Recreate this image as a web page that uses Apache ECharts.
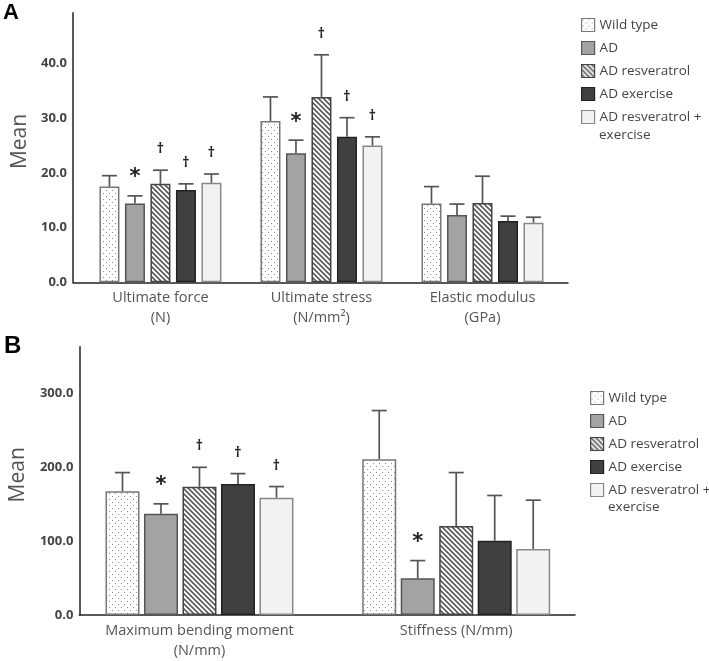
<!DOCTYPE html>
<html><head><meta charset="utf-8">
<script src="https://cdn.jsdelivr.net/npm/echarts@6/dist/echarts.min.js"></script>
<style>html,body{margin:0;padding:0;background:#fff}#c{width:709px;height:661px}</style>
</head><body><div id="c"></div>
<script>
// ---------- data ----------
const groupNames = ['Wild type', 'AD', 'AD resveratrol', 'AD exercise', 'AD resveratrol + exercise'];

// Panel A
const catsA = ['Ultimate force\n(N)', 'Ultimate stress\n(N/mm²)', 'Elastic modulus\n(GPa)'];
const wildTypeA = [17.5, 29.5, 14.4];
const adA = [14.4, 23.6, 12.3];
const adResA = [18.0, 33.9, 14.5];
const adExA = [16.9, 26.6, 11.2];
const adResExA = [18.2, 25.0, 10.9];
// upper ends of error bars
const wildTypeErrA = [19.5, 33.9, 17.5];
const adErrA = [15.8, 26.0, 14.3];
const adResErrA = [20.5, 41.6, 19.4];
const adExErrA = [18.0, 30.1, 12.1];
const adResExErrA = [19.8, 26.6, 11.9];
// significance marks per category (order of groups)
const marksA = [['', '*', '†', '†', '†'], ['', '*', '†', '†', '†'], ['', '', '', '', '']];
const ticksA = [0, 10, 20, 30, 40];

// Panel B
const catsB = ['Maximum bending moment\n(N/mm)', 'Stiffness (N/mm)'];
const wildTypeB = [167.5, 210.6];
const adB = [137.0, 49.8];
const adResB = [173.4, 120.4];
const adExB = [177.4, 100.6];
const adResExB = [158.5, 89.4];
const wildTypeErrB = [192.7, 276.6];
const adErrB = [150.4, 73.6];
const adResErrB = [199.8, 192.7];
const adExErrB = [191.3, 161.7];
const adResExErrB = [173.8, 155.4];
const marksB = [['', '*', '†', '†', '†'], ['', '*', '', '', '']];
const ticksB = [0, 100, 200, 300];

// ---------- patterns ----------
function dotPattern() {
  const c = document.createElement('canvas'); c.width = 6; c.height = 6;
  const g = c.getContext('2d');
  g.fillStyle = '#ffffff'; g.fillRect(0, 0, 6, 6);
  g.fillStyle = '#8c8c8c'; g.fillRect(1, 1, 1, 1); g.fillRect(4, 4, 1, 1);
  return c;
}
function hatchPattern() {
  const s = 5;
  const c = document.createElement('canvas'); c.width = s; c.height = s;
  const g = c.getContext('2d');
  g.fillStyle = '#ffffff'; g.fillRect(0, 0, s, s);
  g.strokeStyle = '#5a5a5a'; g.lineWidth = 1.6;
  [-s, 0, s].forEach(o => { g.beginPath(); g.moveTo(o - 1, -1); g.lineTo(o + s + 1, s + 1); g.stroke(); });
  return c;
}
const styles = [
  { color: { image: dotPattern(), repeat: 'repeat' }, borderColor: '#777', borderWidth: 1.5 },
  { color: '#a3a3a3', borderColor: '#555', borderWidth: 1.5 },
  { color: { image: hatchPattern(), repeat: 'repeat' }, borderColor: '#444', borderWidth: 1.5 },
  { color: '#404040', borderColor: '#222', borderWidth: 1.5 },
  { color: '#f2f2f2', borderColor: '#888', borderWidth: 1.5 }
];

const FONT = 'Open Sans';
const panels = [
  { cats: catsA, means: [wildTypeA, adA, adResA, adExA, adResExA], errs: [wildTypeErrA, adErrA, adResErrA, adExErrA, adResExErrA], marks: marksA, ticks: ticksA,
    grid: { left: 73, top: 12.7, width: 495, height: 269.6 }, xmin: -0.543, xmax: 2.531, ymax: 49.3, barWidth: 20, barGap: '27.5%', step: 25.5, cap: 15,
    legendLeft: 581, legendTop: 16, extraTop: 126 },
  { cats: catsB, means: [wildTypeB, adB, adResB, adExB, adResExB], errs: [wildTypeErrB, adErrB, adResErrB, adExErrB, adResExErrB], marks: marksB, ticks: ticksB,
    grid: { left: 73, top: 346.7, width: 502, height: 269.3 }, xmax: 1.4627, xmin: -0.468, ymax: 363, barWidth: 34, barGap: '13.2%', step: 38.5, cap: 15,
    legendLeft: 590, legendTop: 389, extraTop: 498.5 }
];

const option = { animation: false, grid: [], xAxis: [], yAxis: [], series: [], legend: [], title: [] };
const legendText = { fontSize: 13.5, color: '#444', fontFamily: FONT, lineHeight: 18 };

panels.forEach((p, pi) => {
  option.grid.push(Object.assign({ containLabel: false }, p.grid));
  option.xAxis.push({
    type: 'value', gridIndex: pi, min: p.xmin, max: p.xmax,
    axisLine: { show: true, onZero: false, lineStyle: { color: '#222', width: 1.5 } },
    axisTick: { show: false }, splitLine: { show: false },
    axisLabel: { customValues: p.cats.map((c, i) => i), formatter: v => p.cats[Math.round(v)],
      margin: 6, fontSize: 14.5, lineHeight: 20, color: '#555', fontFamily: FONT, align: 'center' }
  });
  option.yAxis.push({
    type: 'value', gridIndex: pi, min: 0, max: p.ymax,
    axisLine: { show: true, onZero: false, lineStyle: { color: '#222', width: 1.5 } },
    axisTick: { show: false }, splitLine: { show: false },
    axisLabel: { customValues: p.ticks, formatter: v => v.toFixed(1), margin: 6, fontSize: 13, fontWeight: 'bold', color: '#444', fontFamily: FONT },
    name: 'Mean', nameLocation: 'middle', nameGap: 42,
    nameTextStyle: { fontSize: 21, color: '#555', fontFamily: FONT, padding: [0, 0, 0, 12] }
  });
  groupNames.forEach((n, k) => {
    option.series.push({
      type: 'bar', name: n, xAxisIndex: pi, yAxisIndex: pi,
      barWidth: p.barWidth, barGap: p.barGap,
      itemStyle: styles[k],
      data: p.means[k].map((v, i) => [i, v])
    });
  });
  const errData = [], errMarks = [];
  p.cats.forEach((c, i) => groupNames.forEach((n, k) => {
    errData.push([i, p.means[k][i], p.errs[k][i], k]);
    errMarks.push(p.marks[i][k]);
  }));
  option.series.push({
    type: 'custom', xAxisIndex: pi, yAxisIndex: pi, z: 5, silent: true,
    data: errData,
    renderItem: (params, api) => {
      const i = api.value(0), mean = api.value(1), up = api.value(2), k = api.value(3);
      const p0 = api.coord([i, mean]), p1 = api.coord([i, up]);
      const x = p0[0] + (k - 2) * p.step;
      const ls = { stroke: '#555', lineWidth: 1.7 };
      const children = [
        { type: 'line', shape: { x1: x, y1: p0[1], x2: x, y2: p1[1] }, style: ls },
        { type: 'line', shape: { x1: x - p.cap / 2, y1: p1[1], x2: x + p.cap / 2, y2: p1[1] }, style: ls }
      ];
      const m = errMarks[params.dataIndex];
      if (m === '*') children.push({ type: 'text', x: x, y: p1[1] - 18, style: { text: '*', fontSize: 21, fontWeight: 'bold', fontFamily: 'DejaVu Sans', fill: '#222', align: 'center', verticalAlign: 'middle' } });
      if (m === '†') children.push({ type: 'text', x: x, y: p1[1] - 21, style: { text: '†', fontSize: 14, fontWeight: 'bold', fontFamily: FONT, fill: '#222', align: 'center', verticalAlign: 'middle' } });
      return { type: 'group', children };
    }
  });
  option.legend.push({
    orient: 'vertical', left: p.legendLeft, top: p.legendTop, itemWidth: 13, itemHeight: 13, itemGap: 5, padding: 0,
    icon: 'rect', data: groupNames, textStyle: legendText, selectedMode: false,
    itemStyle: { borderWidth: 1.2 },
    formatter: n => n === groupNames[4] ? 'AD resveratrol +' : n
  });
  // continuation line of the last legend entry
  option.title.push({ text: 'exercise', left: p.legendLeft + 18, top: p.extraTop, padding: 0,
    textStyle: { fontSize: 13.5, fontWeight: 'normal', color: '#444', fontFamily: FONT, lineHeight: 18 } });
});

option.title.push({ text: 'A', left: 3, top: 2, padding: 0, textStyle: { fontSize: 22, fontWeight: 'bold', color: '#000', fontFamily: 'Liberation Sans' } });
option.title.push({ text: 'B', left: 4, top: 334, padding: 0, textStyle: { fontSize: 24, fontWeight: 'bold', color: '#000', fontFamily: 'Liberation Sans' } });

const chart = echarts.init(document.getElementById('c'), null, { renderer: 'canvas' });
chart.setOption(option);
</script></body></html>
